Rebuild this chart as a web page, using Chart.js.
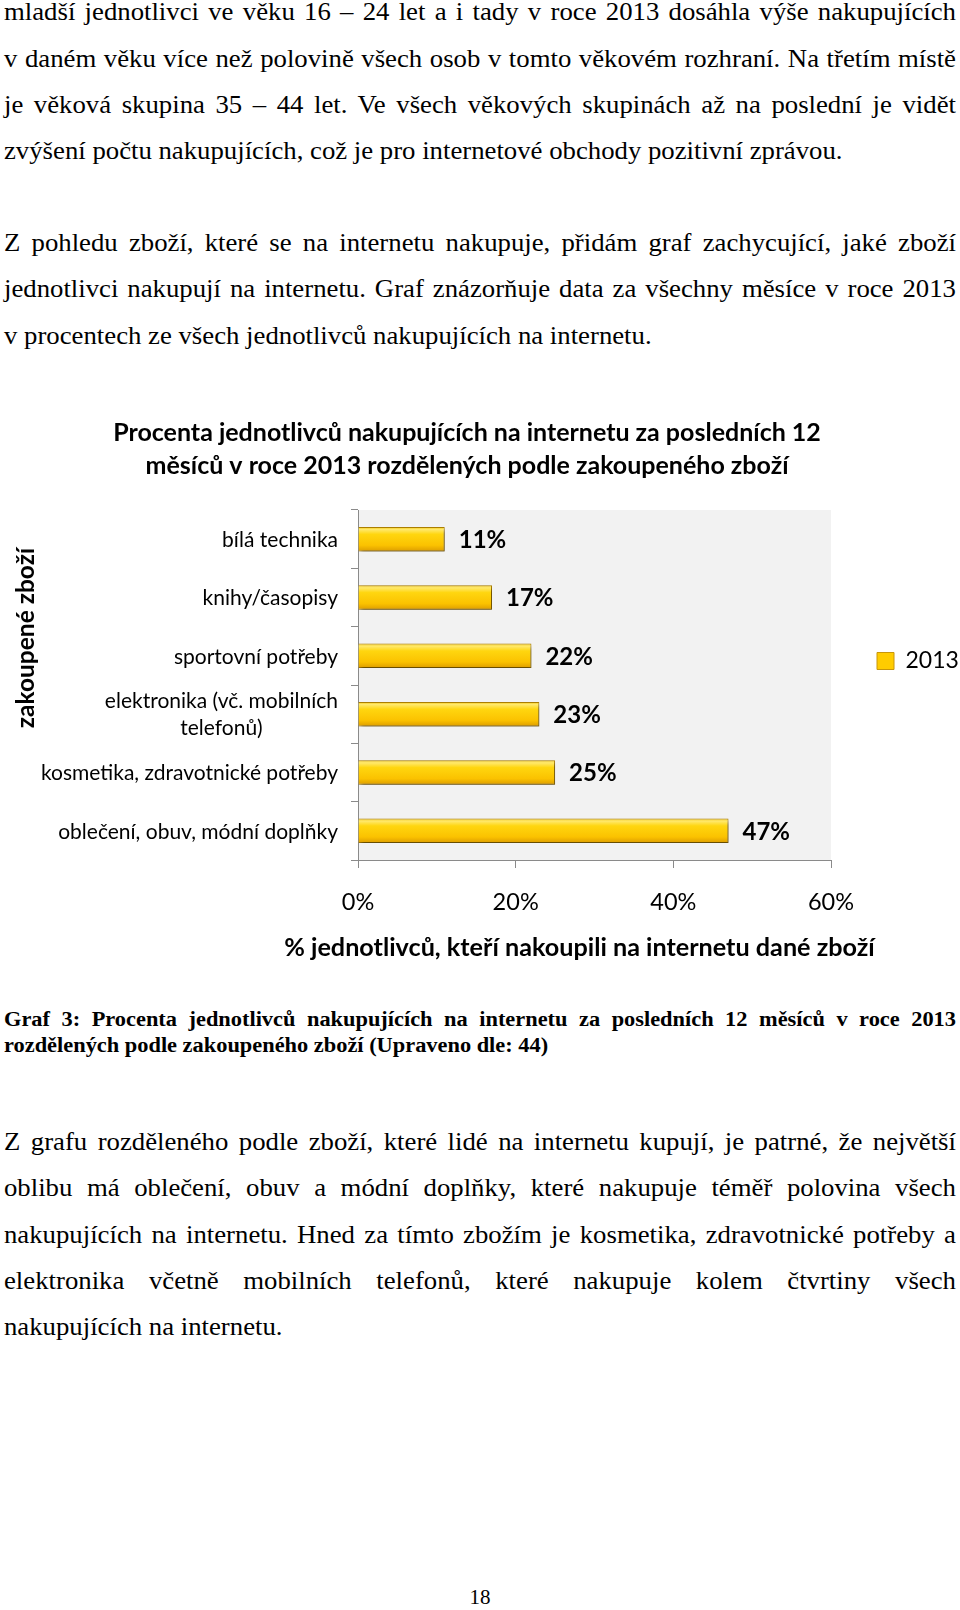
<!DOCTYPE html>
<html lang="cs">
<head>
<meta charset="utf-8">
<script src="https://cdn.jsdelivr.net/npm/chart.js@4.4.0/dist/chart.umd.min.js"></script>
<style>
html,body{margin:0;padding:0;background:#fff;}
body{width:960px;height:1610px;position:relative;overflow:hidden;font-family:"Liberation Serif","Times New Roman",serif;color:#000;}
.p,.cap{position:absolute;left:4px;width:872px;transform:scaleX(1.0917);transform-origin:0 0;}
.p{font-size:24.5px;line-height:46.3px;}
.cap{font-size:20.5px;line-height:25.7px;font-weight:bold;}
.p div,.cap div{text-align:justify;text-align-last:justify;white-space:nowrap;}
.p div.last,.cap div.last{text-align-last:left;}
#pn{position:absolute;left:0;width:960px;text-align:center;top:1587px;font-size:21px;line-height:20px;}
#wrap{position:absolute;left:-26px;top:400px;width:986px;height:566px;}
</style>
</head>
<body>
<div class="p" style="top:-10.6px">
<div>mladší jednotlivci ve věku 16 – 24 let a i tady v roce 2013 dosáhla výše nakupujících</div>
<div>v daném věku více než polovině všech osob v tomto věkovém rozhraní. Na třetím místě</div>
<div>je věková skupina 35 – 44 let. Ve všech věkových skupinách až na poslední je vidět</div>
<div class="last">zvýšení počtu nakupujících, což je pro internetové obchody pozitivní zprávou.</div>
</div>
<div class="p" style="top:220.1px">
<div>Z pohledu zboží, které se na internetu nakupuje, přidám graf zachycující, jaké zboží</div>
<div>jednotlivci nakupují na internetu. Graf znázorňuje data za všechny měsíce v roce 2013</div>
<div class="last">v procentech ze všech jednotlivců nakupujících na internetu.</div>
</div>

<div id="wrap"><canvas id="c" width="986" height="566"></canvas></div>

<div class="cap" style="top:1007.4px">
<div>Graf 3: Procenta jednotlivců nakupujících na internetu za posledních 12 měsíců v roce 2013</div>
<div class="last">rozdělených podle zakoupeného zboží (Upraveno dle: 44)</div>
</div>
<div class="p" style="top:1119.1px">
<div>Z grafu rozděleného podle zboží, které lidé na internetu kupují, je patrné, že největší</div>
<div>oblibu má oblečení, obuv a módní doplňky, které nakupuje téměř polovina všech</div>
<div>nakupujících na internetu. Hned za tímto zbožím je kosmetika, zdravotnické potřeby a</div>
<div>elektronika včetně mobilních telefonů, které nakupuje kolem čtvrtiny všech</div>
<div class="last">nakupujících na internetu.</div>
</div>
<div id="pn">18</div>

<script>
// ---- data ----
const categories = [
  'bílá technika',
  'knihy/časopisy',
  'sportovní potřeby',
  ['elektronika (vč. mobilních', 'telefonů)'],
  'kosmetika, zdravotnické potřeby',
  'oblečení, obuv, módní doplňky'
];
const values2013 = [11, 17, 22, 23, 25, 47];
const seriesName = '2013';
const xTickValues = [0, 20, 40, 60];
const chartTitle = ['Procenta jednotlivců nakupujících na internetu za posledních 12',
                    'měsíců v roce 2013 rozdělených podle zakoupeného zboží'];
const xAxisTitle = '% jednotlivců, kteří nakoupili na internetu dané zboží';
const yAxisTitle = 'zakoupené zboží';

// ---- styles ----
const FONT = 'Lato';
const BAR_PCT = 0.42;
const AXIS_COLOR = '#8a8a8a';

function barGradient(ctx) {
  const chart = ctx.chart;
  if (!chart.chartArea || ctx.dataIndex === undefined || !chart.scales.y) return '#FFC800';
  const ys = chart.scales.y;
  const y = ys.getPixelForValue(ctx.dataIndex);
  const half = ys.height / categories.length * BAR_PCT / 2;
  const g = chart.ctx.createLinearGradient(0, y - half, 0, y + half);
  g.addColorStop(0, '#F2C200');
  g.addColorStop(0.1, '#FFE96E');
  g.addColorStop(0.3, '#FFD60F');
  g.addColorStop(0.75, '#FBC200');
  g.addColorStop(1, '#DC9C00');
  return g;
}

const pagePlugin = {
  id: 'pagePlugin',
  beforeDraw(chart) {
    const {ctx, chartArea: a} = chart;
    ctx.save();
    ctx.fillStyle = '#F2F2F2';
    ctx.fillRect(a.left, a.top, a.right - a.left, a.bottom - a.top);
    ctx.restore();
  },
  afterLayout(chart) {
    // legend sits a little above the vertical centre of the plot, as in the original
    const lg = chart.legend;
    if (lg) { lg.top -= 44; }
  },
  beforeDatasetsDraw(chart) {
    const ctx = chart.ctx;
    ctx.save();
    ctx.shadowColor = 'rgba(0,0,0,0.45)';
    ctx.shadowBlur = 4;
    ctx.shadowOffsetX = 2;
    ctx.shadowOffsetY = 3;
  },
  afterDatasetsDraw(chart) {
    const ctx = chart.ctx;
    ctx.restore();
    // value labels
    const meta = chart.getDatasetMeta(0);
    ctx.save();
    ctx.fillStyle = '#000';
    ctx.font = 'bold 24px ' + FONT;
    ctx.textAlign = 'left';
    ctx.textBaseline = 'middle';
    meta.data.forEach((bar, i) => {
      ctx.fillText(values2013[i] + '%', bar.x + 14, bar.y + 1);
    });
    ctx.restore();
  },
  afterDraw(chart) {
    const ctx = chart.ctx;
    const ys = chart.scales.y;
    const a = chart.chartArea;
    ctx.save();
    ctx.fillStyle = '#000';
    ctx.font = '21px ' + FONT;
    ctx.textBaseline = 'middle';
    const right = a.left - 20;
    const lh = 27;
    categories.forEach((lab, i) => {
      const lines = Array.isArray(lab) ? lab : [lab];
      const y = ys.getPixelForTick(i);
      const w = Math.max(...lines.map(l => ctx.measureText(l).width));
      if (lines.length === 1) {
        ctx.textAlign = 'right';
        ctx.fillText(lines[0], right, y + 1);
      } else {
        ctx.textAlign = 'center';
        lines.forEach((l, j) => {
          ctx.fillText(l, right - w / 2, y + 1 + (j - (lines.length - 1) / 2) * lh);
        });
      }
    });
    // x axis title
    ctx.font = 'bold 25.2px ' + FONT;
    ctx.textAlign = 'center';
    ctx.fillText(xAxisTitle, (a.left + a.right) / 2 - 15, a.bottom + 88);
    // y axis title
    ctx.font = 'bold 24.5px ' + FONT;
    ctx.translate(52, (a.top + a.bottom) / 2 - 47);
    ctx.rotate(-Math.PI / 2);
    ctx.fillText(yAxisTitle, 0, 0);
    ctx.restore();
  }
};

new Chart(document.getElementById('c'), {
  type: 'bar',
  data: {
    labels: categories,
    datasets: [{
      label: seriesName,
      data: values2013,
      backgroundColor: barGradient,
      borderColor: '#AE8000',
      borderWidth: 1,
      categoryPercentage: 1,
      barPercentage: BAR_PCT
    }]
  },
  plugins: [pagePlugin],
  options: {
    indexAxis: 'y',
    responsive: false,
    animation: false,
    devicePixelRatio: 1,
    layout: {padding: 0},
    plugins: {
      title: {
        display: true,
        text: chartTitle,
        color: '#000',
        font: {family: FONT, size: 25, weight: 'bold', lineHeight: 33 / 25},
        padding: {top: 16.5, bottom: 27.5}
      },
      legend: {
        position: 'right',
        align: 'center',
        maxWidth: 129,
        labels: {
          boxWidth: 17,
          boxHeight: 17,
          padding: 46,
          color: '#000',
          font: {family: FONT, size: 23},
          generateLabels: () => [{
            text: seriesName,
            fillStyle: '#FFCC00',
            strokeStyle: '#C8960A',
            lineWidth: 1,
            datasetIndex: 0
          }]
        }
      },
      tooltip: {enabled: false}
    },
    scales: {
      x: {
        min: 0,
        max: 60,
        afterBuildTicks: s => { s.ticks = xTickValues.map(v => ({value: v})); },
        afterFit: s => { s.height = 106; },
        ticks: {
          callback: v => v + '%',
          color: '#000',
          font: {family: FONT, size: 23.5},
          padding: 20
        },
        grid: {drawOnChartArea: false, tickLength: 8, color: AXIS_COLOR},
        border: {color: AXIS_COLOR},
        title: {display: false, text: xAxisTitle}
      },
      y: {
        afterFit: s => { s.width = 384; },
        ticks: {display: false},
        grid: {drawOnChartArea: false, tickLength: 7, color: AXIS_COLOR, offset: true},
        border: {color: AXIS_COLOR}
      }
    }
  }
});
</script>
</body>
</html>
